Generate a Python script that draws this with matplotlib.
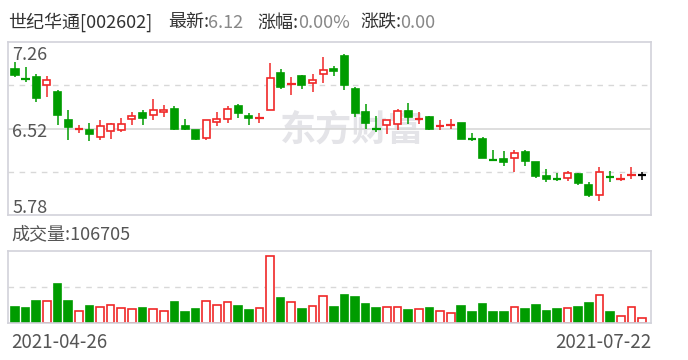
import matplotlib.pyplot as plt
import numpy as np

plt.rcParams['font.family'] = ['Noto Sans CJK SC', 'DejaVu Sans']

# daily candles, 2021-04-26 .. 2021-07-22
opens = [7.03, 6.95, 6.96, 6.89, 6.83, 6.59, 6.51, 6.51, 6.45, 6.50,
         6.51, 6.60, 6.65, 6.64, 6.66, 6.69, 6.54, 6.51, 6.44, 6.58,
         6.60, 6.71, 6.63, 6.61, 6.68, 7.00, 6.90, 6.97, 6.91, 6.99,
         7.03, 7.14, 6.86, 6.66, 6.52, 6.55, 6.56, 6.67, 6.60, 6.62,
         6.54, 6.55, 6.57, 6.44, 6.43, 6.26, 6.26, 6.27, 6.32, 6.23,
         6.11, 6.09, 6.10, 6.13, 6.04, 5.95, 6.11, 6.08, 6.12, 6.12]
highs = [7.09, 7.05, 6.99, 6.97, 6.85, 6.68, 6.55, 6.57, 6.59, 6.57,
         6.61, 6.66, 6.68, 6.77, 6.72, 6.71, 6.60, 6.51, 6.59, 6.66,
         6.71, 6.73, 6.65, 6.65, 7.08, 7.03, 6.96, 6.98, 6.99, 7.13,
         7.06, 7.16, 6.88, 6.73, 6.63, 6.59, 6.69, 6.74, 6.66, 6.63,
         6.59, 6.60, 6.57, 6.48, 6.45, 6.34, 6.33, 6.34, 6.34, 6.23,
         6.17, 6.14, 6.16, 6.14, 6.06, 6.19, 6.16, 6.13, 6.19, 6.15]
lows = [6.96, 6.92, 6.75, 6.79, 6.55, 6.42, 6.48, 6.41, 6.42, 6.43,
        6.49, 6.55, 6.55, 6.59, 6.62, 6.51, 6.51, 6.42, 6.42, 6.54,
        6.57, 6.61, 6.55, 6.57, 6.68, 6.86, 6.81, 6.86, 6.83, 6.91,
        6.97, 6.85, 6.62, 6.52, 6.49, 6.47, 6.51, 6.56, 6.56, 6.51,
        6.51, 6.52, 6.43, 6.41, 6.27, 6.25, 6.20, 6.15, 6.20, 6.10,
        6.06, 6.07, 6.07, 6.04, 5.93, 5.90, 6.06, 6.07, 6.09, 6.08]
closes = [6.98, 6.94, 6.78, 6.94, 6.64, 6.53, 6.52, 6.47, 6.54, 6.56,
          6.56, 6.63, 6.61, 6.68, 6.68, 6.52, 6.52, 6.43, 6.59, 6.60,
          6.69, 6.65, 6.61, 6.62, 6.95, 6.88, 6.91, 6.89, 6.94, 7.02,
          7.01, 6.89, 6.65, 6.57, 6.51, 6.59, 6.67, 6.62, 6.61, 6.52,
          6.55, 6.56, 6.43, 6.43, 6.27, 6.25, 6.23, 6.31, 6.24, 6.11,
          6.09, 6.08, 6.14, 6.05, 5.95, 6.15, 6.10, 6.09, 6.13, 6.12]
volumes = [373000, 349000, 526000, 519000, 938000, 526000, 284000, 405000, 373000, 422000,
           349000, 325000, 356000, 325000, 276000, 502000, 259000, 332000, 519000, 422000,
           495000, 405000, 308000, 349000, 1610000, 599000, 495000, 332000, 398000, 640000,
           381000, 672000, 623000, 453000, 356000, 373000, 373000, 308000, 325000, 356000,
           276000, 228000, 405000, 252000, 453000, 259000, 259000, 373000, 332000, 429000,
           284000, 332000, 349000, 381000, 478000, 664000, 259000, 162000, 373000, 106705]

price_labels = [7.26, 6.52, 5.78]
date_labels = ['2021-04-26', '2021-07-22']
title_parts = [('世纪华通[002602]', '#333333'), ('最新:', '#333333'), ('6.12', '#888888'),
               ('涨幅:', '#333333'), ('0.00%', '#888888'), ('涨跌:', '#333333'), ('0.00', '#888888')]
title_x = [8, 168, 208, 257, 298, 360, 400]
volume_label = '成交量:106705'

RED = '#f02828'
GREEN = '#009c00'
FRAME = '#d2d2da'
GRID = '#d8d8d8'
LABEL = '#555555'

W, H = 688, 360
fig = plt.figure(figsize=(W / 100, H / 100), dpi=100)


def px_axes(left, top, right, bottom):
    return fig.add_axes([left / W, 1 - bottom / H, (right - left) / W, (bottom - top) / H])


ax = px_axes(8.3, 42.3, 651, 215)
axv = px_axes(8.3, 251.3, 651, 322.7)

o = np.array(opens)
h = np.array(highs)
l = np.array(lows)
c = np.array(closes)
v = np.array(volumes)
x = np.arange(len(o))

up = c > o
down = c < o
cand_col = np.where(up, RED, np.where(down, GREEN, '#000000'))
vol_up = c >= o

# price panel
ax.axhline(price_labels[1], color=GRID, lw=1.2, zorder=1)
for g in [(price_labels[0] + price_labels[1]) / 2, (price_labels[1] + price_labels[2]) / 2]:
    ax.axhline(g, color=GRID, lw=1.0, ls=(0, (4, 4)), zorder=1)

ax.text(280 / W, 1 - 130 / H, '东方财富', transform=fig.transFigure, fontsize=26,
        fontweight='bold', color='#e4e4e8', va='center', ha='left', zorder=0.5)

ax.vlines(x, l, h, colors=cand_col, lw=1.1, zorder=2)

body = np.abs(c - o)
doji = body < 0.015
solid = ~doji
ax.bar(x[solid], body[solid], 0.66, bottom=np.minimum(o, c)[solid],
       color=np.where(up, 'white', GREEN)[solid], edgecolor=cand_col[solid],
       lw=1.2, zorder=3)
ax.hlines(((o + c) / 2)[doji], x[doji] - 0.4, x[doji] + 0.4,
          colors=cand_col[doji], lw=1.6, zorder=3)

ax.set_xlim(-0.63, len(o) - 0.15)
ax.set_ylim(price_labels[2], price_labels[0])

offsets = [-17.7, -8, 2]
for val, dy in zip(price_labels, offsets):
    ax.annotate(f'{val:.2f}', xy=(0, val), xycoords=('axes fraction', 'data'),
                xytext=(4, dy), textcoords='offset pixels', va='baseline', ha='left',
                fontsize=13, color=LABEL, zorder=4)

# volume panel
axv.axhline(v.max() * 1.075 / 2, color=GRID, lw=1.0, ls=(0, (4, 4)), zorder=1)
axv.bar(x, v, 0.72, color=np.where(vol_up, 'white', GREEN),
        edgecolor=np.where(vol_up, RED, GREEN), lw=1.2, zorder=2)
axv.set_xlim(-0.63, len(o) - 0.15)
axv.set_ylim(0, v.max() * 1.075)

for a in (ax, axv):
    a.set_xticks([])
    a.set_yticks([])
    for s in a.spines.values():
        s.set_color(FRAME)
        s.set_linewidth(1.2)

# texts
for (txt, col), px in zip(title_parts, title_x):
    fig.text(px / W, 1 - 27.5 / H, txt, color=col, fontsize=13, va='baseline', ha='left')

fig.text(11 / W, 1 - 239.3 / H, volume_label, color=LABEL, fontsize=13, va='baseline', ha='left')
fig.text(11 / W, 1 - 348.3 / H, date_labels[0], color=LABEL, fontsize=13.5, va='baseline', ha='left')
fig.text(651 / W, 1 - 348.3 / H, date_labels[1], color=LABEL, fontsize=13.5, va='baseline', ha='right')

fig.savefig('out.png', dpi=100)
